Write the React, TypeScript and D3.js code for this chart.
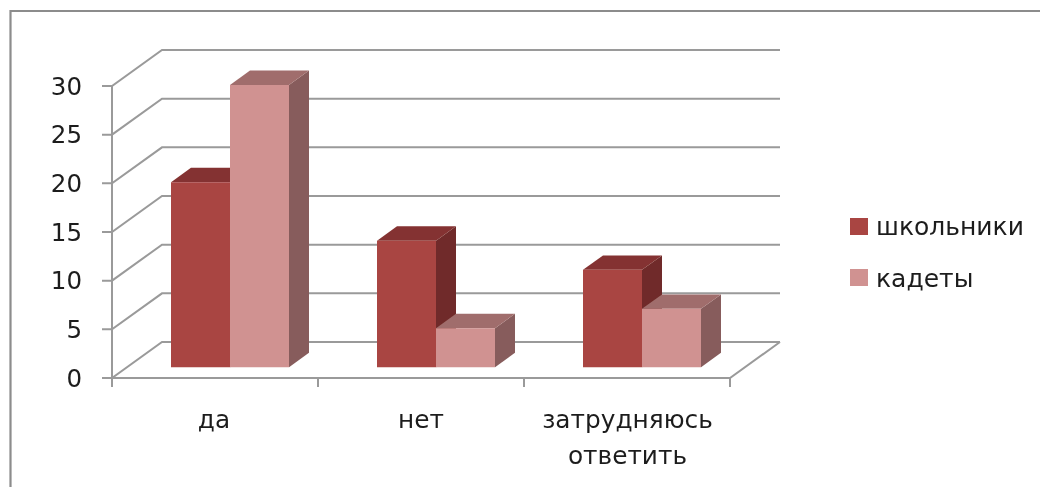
import React from "react";
import * as d3 from "d3";

const categories: string[][] = [["да"], ["нет"], ["затрудняюсь", "ответить"]];
const seriesNames = ["школьники", "кадеты"];
const schoolValues = [19, 13, 10];
const cadetValues = [29, 4, 6];
const yTicks = [0, 5, 10, 15, 20, 25, 30];
const faceColors = ["#A94542", "#D09291"];
const topColors = ["#843331", "#A06D6C"];
const sideColors = ["#6F2B29", "#875C5B"];
const GRID = "#9A9A9A";
const FONT = "'DejaVu Sans', sans-serif";

const WIDTH = 1040;
const HEIGHT = 487;
const DEPTH_X = 50;
const DEPTH_Y = 36;

const x = d3.scaleBand<number>().domain([0, 1, 2]).range([112, 730]);
const y = d3.scaleLinear().domain([0, 30]).range([378, 86]);
const inner = d3.scaleBand<number>().domain([0, 1]).range([0, 118]);

type P = [number, number];
const project = (px: number, v: number, t: number): P => [px + DEPTH_X * t, y(v) - DEPTH_Y * t];
const pts = (p: P[]) => p.map((q) => q.join(",")).join(" ");
const line = d3.line();

const seriesValues = [schoolValues, cadetValues];
const T0 = 0.3;
const T1 = 0.7;

function Bar({ cat, s }: { cat: number; s: number }) {
  const v = seriesValues[s][cat];
  const bandCenter = (x(cat) as number) + x.bandwidth() / 2;
  const x0 = bandCenter - 59 + (inner(s) as number);
  const x1 = x0 + inner.bandwidth();
  return (
    <g>
      <polygon points={pts([project(x1, 0, T0), project(x1, 0, T1), project(x1, v, T1), project(x1, v, T0)])} fill={sideColors[s]} />
      <polygon points={pts([project(x0, v, T0), project(x0, v, T1), project(x1, v, T1), project(x1, v, T0)])} fill={topColors[s]} />
      <polygon points={pts([project(x0, 0, T0), project(x1, 0, T0), project(x1, v, T0), project(x0, v, T0)])} fill={faceColors[s]} />
    </g>
  );
}

export default function App() {
  const xMin = x.range()[0];
  const xMax = x.range()[1];
  return (
    <svg width={WIDTH} height={HEIGHT} style={{ position: "absolute", left: 0, top: 0, background: "#fff" }} fontFamily={FONT}>
      <defs>
        <filter id="soft" x="-5%" y="-5%" width="110%" height="110%">
          <feGaussianBlur stdDeviation="0.5" />
        </filter>
      </defs>
      <g filter="url(#soft)">
        <path d={line([[10.5, HEIGHT], [10.5, 11], [WIDTH, 11]]) as string} fill="none" stroke="#8C8C8C" strokeWidth={2.2} />
        {yTicks.map((t) => (
          <g key={t}>
            <path d={line([[xMin - 10, y(t)], project(xMin, t, 0), project(xMin, t, 1), project(xMax, t, 1)]) as string} fill="none" stroke={GRID} strokeWidth={2} />
            <text x={82} y={y(t)} dy="0.36em" textAnchor="end" fontSize={24.5} fill="#1c1c1c">{t}</text>
          </g>
        ))}
        <path d={line([project(xMin, 0, 0), project(xMin, 30, 0)]) as string} fill="none" stroke={GRID} strokeWidth={2} />
        <path d={line([project(xMin, 0, 0), project(xMax, 0, 0), project(xMax, 0, 1)]) as string} fill="none" stroke={GRID} strokeWidth={2} />
        {[0, 1, 2, 3].map((i) => {
          const tx = i < 3 ? (x(i) as number) : xMax;
          return <path key={i} d={line([[tx, y(0)], [tx, y(0) + 9]]) as string} stroke={GRID} strokeWidth={2} />;
        })}
        {categories.map((_, c) => (
          <g key={c}>
            <Bar cat={c} s={0} />
            <Bar cat={c} s={1} />
          </g>
        ))}
        {categories.map((lines, c) => (
          <text key={c} textAnchor="middle" fontSize={24.8} fill="#1c1c1c">
            {lines.map((l, i) => (
              <tspan key={i} x={(x(c) as number) + x.bandwidth() / 2 - (c === 0 ? 1 : 0) + (c === 2 ? 0.5 : 0)} y={428 + i * 36}>{l}</tspan>
            ))}
          </text>
        ))}
        {seriesNames.map((n, i) => (
          <g key={n}>
            <rect x={850} y={218 + i * 51} width={18} height={17} fill={faceColors[i]} />
            <text x={876} y={235 + i * 52} fontSize={25} fill="#1c1c1c">{n}</text>
          </g>
        ))}
      </g>
    </svg>
  );
}
